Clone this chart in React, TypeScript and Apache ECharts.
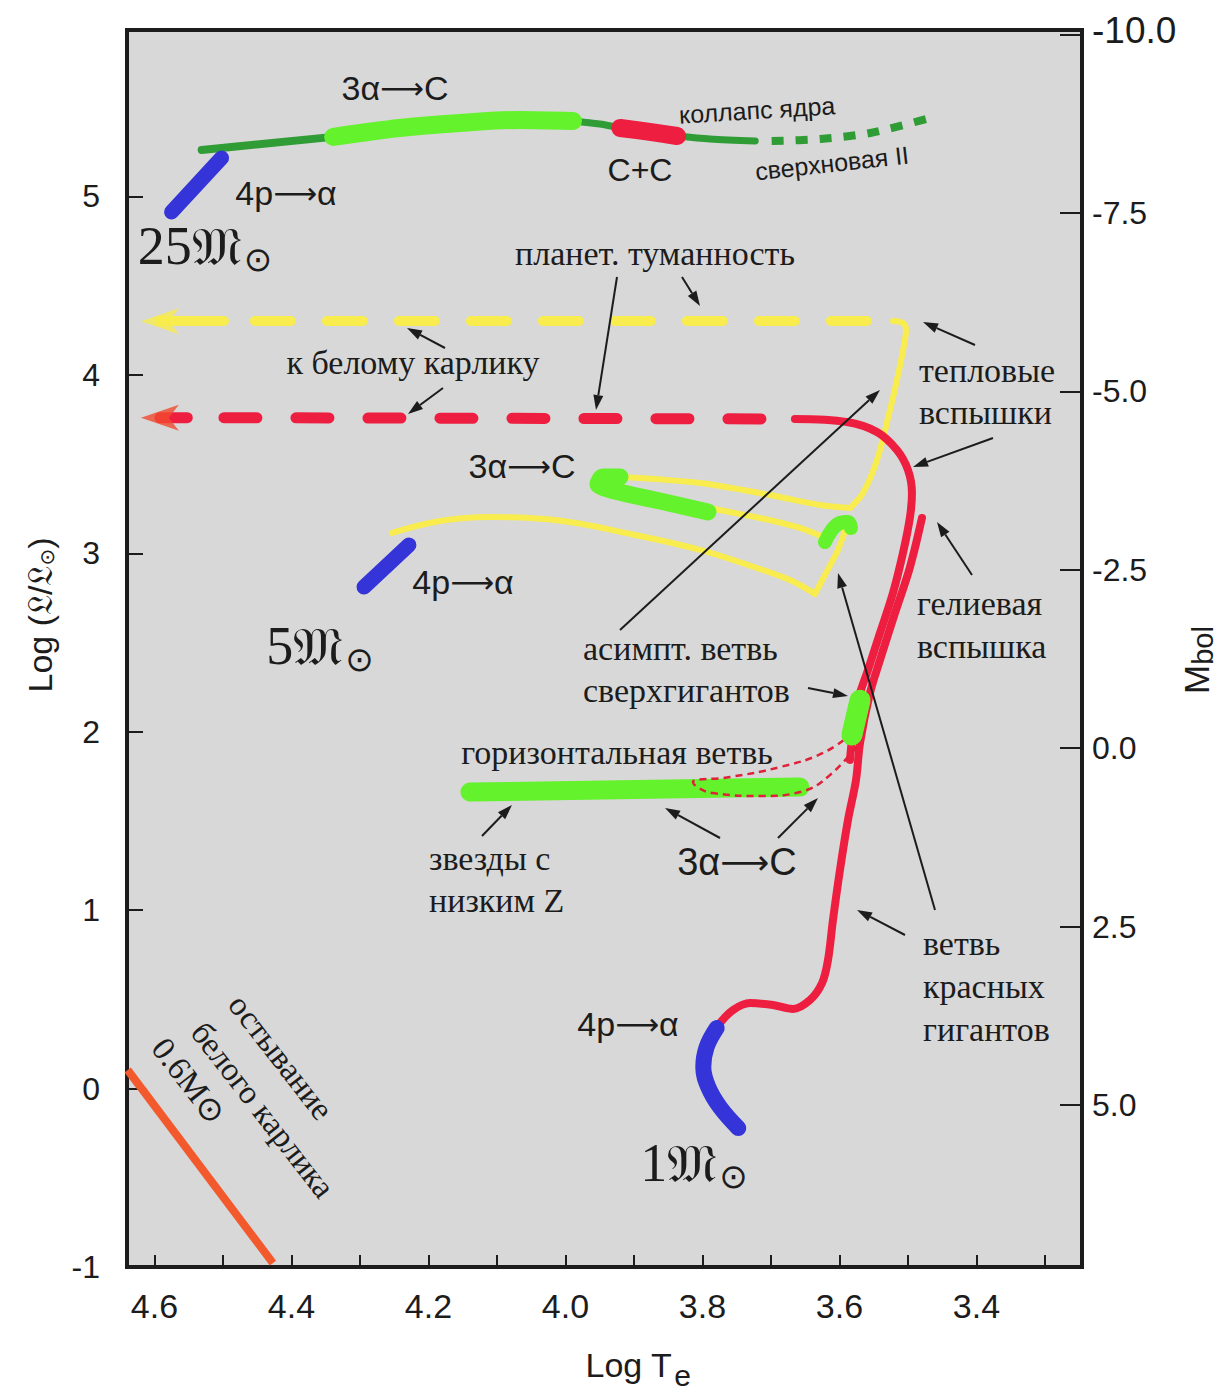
import React, { useEffect, useRef } from 'react';
import * as echarts from 'echarts';

// ---- axes ----
const xTicks = [4.6, 4.5, 4.4, 4.3, 4.2, 4.1, 4.0, 3.9, 3.8, 3.7, 3.6, 3.5, 3.4, 3.3];
const xLabels = [4.6, 4.4, 4.2, 4.0, 3.8, 3.6, 3.4];
const yLabels = [-1, 0, 1, 2, 3, 4, 5];
const mbolLabels = [-10, -7.5, -5, -2.5, 0, 2.5, 5];

// ---- 25 Msun track ----
const m25Blue = [[4.575, 4.913], [4.502, 5.216]];
const m25Dark1 = [[4.531, 5.261], [4.339, 5.334]];
const m25Light = [[4.339, 5.334], [4.242, 5.384], [4.154, 5.412], [4.066, 5.429], [3.989, 5.423]];
const m25Dark2 = [[3.989, 5.423], [3.950, 5.406], [3.920, 5.384]];
const m25Red = [[3.920, 5.384], [3.877, 5.362], [3.837, 5.339]];
const m25Dark3 = [[3.837, 5.339], [3.789, 5.322], [3.723, 5.311]];
const m25SN = [[3.699, 5.311], [3.628, 5.322], [3.555, 5.356], [3.468, 5.440]];

// ---- 5 Msun track ----
const m5Blue = [[4.294, 2.811], [4.2285, 3.047]];
const m5YellowLow = [[4.2533, 3.114], [4.1832, 3.181], [4.1102, 3.203], [4.0153, 3.187], [3.8912, 3.097], [3.8036, 3.019], [3.7292, 2.929], [3.6723, 2.850], [3.6358, 2.772]];
const m5YellowRise = [[3.6358, 2.772], [3.6197, 2.890], [3.6022, 3.019], [3.5905, 3.142]];
const m5Hook = [[3.6212, 3.063], [3.6110, 3.131], [3.5993, 3.170], [3.5876, 3.175], [3.5832, 3.142]];
const m5YellowMid = [[3.792, 3.254], [3.7161, 3.198], [3.6577, 3.142], [3.6212, 3.086]];
const m5Green = [[3.792, 3.232], [3.862, 3.293], [3.9277, 3.349], [3.9526, 3.388], [3.9453, 3.428], [3.9204, 3.428]];
const m5YellowUp = [[3.9175, 3.428], [3.8036, 3.394], [3.7015, 3.327], [3.6285, 3.271], [3.5847, 3.254]];
const m5YellowTP = [[3.5847, 3.254], [3.5657, 3.338], [3.5453, 3.523], [3.5263, 3.803], [3.5146, 3.999], [3.5058, 4.168], [3.5029, 4.252], [3.5073, 4.291], [3.5219, 4.302]];
const m5PN = [[4.4533, 4.302], [3.5219, 4.302]];
const m5PNStub = [[4.592, 4.302], [4.4985, 4.302]];
const m5Arrow = [[4.592, 4.300]];

// ---- 1 Msun track ----
const m1Blue = [[3.7793, 0.339], [3.7939, 0.233], [3.7988, 0.121], [3.7915, 0.008], [3.7745, -0.104], [3.7477, -0.221]];
const m1RGB = [[3.7745, 0.367], [3.7555, 0.440], [3.7307, 0.479], [3.6971, 0.468], [3.6679, 0.446], [3.6431, 0.496], [3.6255, 0.591], [3.6168, 0.720], [3.6095, 0.945], [3.5993, 1.225], [3.5876, 1.505], [3.5759, 1.729], [3.5700, 1.937], [3.5555, 2.217], [3.5409, 2.402], [3.5190, 2.665], [3.4971, 2.923], [3.4796, 3.198]];
const m1AGB = [[3.5847, 1.842], [3.5818, 1.954], [3.5730, 2.177], [3.5584, 2.346], [3.5409, 2.553], [3.5219, 2.778], [3.5073, 3.002], [3.4971, 3.203], [3.4942, 3.338], [3.5000, 3.467], [3.5161, 3.579], [3.5453, 3.680], [3.5891, 3.736], [3.6650, 3.753]];
const m1PN = [[4.4985, 3.760], [3.6650, 3.753]];
const m1PNStub = [[4.592, 3.760], [4.552, 3.760]];
const m1Arrow = [[4.592, 3.760]];
const m1Clump = [[3.5818, 1.982], [3.5700, 2.177]];
const hbLoop = [[3.5803, 1.993], [3.6241, 1.881], [3.6869, 1.802], [3.7599, 1.746], [3.8139, 1.718], [3.8080, 1.690], [3.7847, 1.656], [3.7117, 1.640], [3.6577, 1.662], [3.6139, 1.757], [3.5701, 1.942]];
const hbGreen = [[4.1394, 1.662], [3.6577, 1.690]];

// ---- white dwarf cooling ----
const wdCooling = [[4.639, 0.104], [4.427, -0.978]];

// ---- colours ----
const BLUE = '#3434d8';
const LGREEN = '#63f22b';
const DGREEN = '#2f9c35';
const RED = '#ee1e40';
const YELLOW = '#f8ec4e';
const ORANGE = '#f25a2e';
const INK = '#1c1c1c';
const SERIF = '"Liberation Serif", "Times New Roman", serif';
const SANS = '"Liberation Sans", Arial, sans-serif';
const ARROWFONT = '"DejaVu Sans", sans-serif';

function ln(data: number[][], color: string, width: number, extra: any = {}) {
  return {
    type: 'line',
    data,
    xAxisIndex: 0,
    yAxisIndex: 0,
    symbol: 'none',
    silent: true,
    smooth: extra.smooth ?? 0.3,
    z: extra.z ?? 2,
    lineStyle: {
      color,
      width,
      cap: extra.cap ?? 'round',
      join: 'round',
      type: extra.dash ?? 'solid',
    },
  };
}

function arrowhead(data: number[][], color: string) {
  return {
    type: 'scatter',
    data,
    xAxisIndex: 0,
    yAxisIndex: 0,
    symbol: 'path://M0,13 L34,0 L25,13 L34,26 Z',
    symbolSize: [38, 26],
    silent: true,
    z: 3,
    itemStyle: { color },
  };
}

function arrow(x1: number, y1: number, x2: number, y2: number) {
  const a = Math.atan2(y2 - y1, x2 - x1);
  const head = 15;
  const hw = 5;
  const bx = x2 - head * Math.cos(a);
  const by = y2 - head * Math.sin(a);
  const px = -Math.sin(a) * hw;
  const py = Math.cos(a) * hw;
  return [
    { type: 'line', z: 100, silent: true, shape: { x1, y1, x2: bx, y2: by }, style: { stroke: INK, lineWidth: 2 } },
    { type: 'polygon', z: 100, silent: true, shape: { points: [[x2, y2], [bx + px, by + py], [bx - px, by - py]] }, style: { fill: INK } },
  ];
}

function txt(text: string, x: number, y: number, o: any = {}) {
  const align = o.align ?? 'center';
  return {
    type: 'text',
    x,
    y,
    rotation: o.rotation ?? 0,
    z: 100,
    silent: true,
    style: {
      text,
      fill: o.fill ?? INK,
      fontSize: o.size ?? 34,
      fontFamily: o.family ?? SERIF,
      align,
      verticalAlign: 'middle',
      textAlign: align,
      textVerticalAlign: 'middle',
      rich: o.rich,
    },
  };
}

// reaction labels such as "3α→C" with a long arrow glyph
function reaction(left: string, right: string, x: number, y: number, size = 34) {
  return txt(`{t|${left}}{a|\u27F6}{t|${right}}`, x, y, {
    rich: {
      t: { fontSize: size, fontFamily: SANS, fill: INK, lineHeight: size + 6 },
      a: { fontSize: size * 0.9, fontFamily: ARROWFONT, fill: INK, lineHeight: size + 6 },
    },
  });
}

const massRich = {
  n: { fontSize: 54, fontFamily: SERIF, fill: INK, lineHeight: 60 },
  m: { fontSize: 54, fontFamily: '"DejaVu Serif", "Noto Sans", serif', fill: INK, lineHeight: 60 },
  s: { fontSize: 34, fontFamily: '"DejaVu Sans", sans-serif', fill: INK, lineHeight: 60, verticalAlign: 'bottom', padding: [22, 0, 0, 2] },
};

const graphics: any[] = [
  // axis titles
  {
    type: 'text', x: 638, y: 1365, z: 100, silent: true,
    style: {
      text: '{a|Log T}{b|e}', align: 'center', verticalAlign: 'middle', textAlign: 'center', textVerticalAlign: 'middle',
      rich: {
        a: { fontSize: 34, fontFamily: '"Liberation Sans Narrow", "Liberation Sans", sans-serif', fill: INK, lineHeight: 40 },
        b: { fontSize: 30, fontFamily: '"Liberation Sans Narrow", "Liberation Sans", sans-serif', fill: INK, lineHeight: 40, padding: [20, 0, 0, 2] },
      },
    },
  },
  {
    type: 'text', x: 1196, y: 660, rotation: Math.PI / 2, z: 100, silent: true,
    style: {
      text: '{a|M}{b|bol}', align: 'center', verticalAlign: 'middle', textAlign: 'center', textVerticalAlign: 'middle',
      rich: {
        a: { fontSize: 35, fontFamily: SANS, fill: INK, lineHeight: 40 },
        b: { fontSize: 29, fontFamily: SANS, fill: INK, lineHeight: 40, padding: [14, 0, 0, 0] },
      },
    },
  },
  {
    type: 'text', x: 40, y: 615, rotation: Math.PI / 2, z: 100, silent: true,
    style: {
      text: '{a|Log (\u{1D50F}/\u{1D50F}}{b|\u2299}{a|)}', align: 'center', verticalAlign: 'middle', textAlign: 'center', textVerticalAlign: 'middle',
      rich: {
        a: { fontSize: 34, fontFamily: '"Liberation Sans", "DejaVu Sans", sans-serif', fill: INK, lineHeight: 40 },
        b: { fontSize: 20, fontFamily: '"DejaVu Sans", sans-serif', fill: INK, lineHeight: 40, padding: [14, 0, 0, 0] },
      },
    },
  },

  // 25 Msun labels
  reaction('3\u03b1', 'C', 395, 88),
  reaction('4p', '\u03b1', 286, 193),
  txt('{n|25}{m|\u{1D510}}{s|\u2299}', 205, 246, { rich: massRich }),
  txt('\u043a\u043e\u043b\u043b\u0430\u043f\u0441 \u044f\u0434\u0440\u0430', 757, 110, { family: SANS, size: 25, rotation: 0.06 }),
  txt('C+C', 640, 170, { family: SANS, size: 32 }),
  txt('\u0441\u0432\u0435\u0440\u0445\u043d\u043e\u0432\u0430\u044f II', 832, 163, { family: SANS, size: 25, rotation: 0.11 }),

  // planetary nebula / white dwarf
  txt('\u043f\u043b\u0430\u043d\u0435\u0442. \u0442\u0443\u043c\u0430\u043d\u043d\u043e\u0441\u0442\u044c', 655, 253, { size: 34 }),
  txt('\u043a \u0431\u0435\u043b\u043e\u043c\u0443 \u043a\u0430\u0440\u043b\u0438\u043a\u0443', 413, 362, { size: 34 }),
  txt('\u0442\u0435\u043f\u043b\u043e\u0432\u044b\u0435', 919, 370, { size: 34, align: 'left' }),
  txt('\u0432\u0441\u043f\u044b\u0448\u043a\u0438', 919, 412, { size: 34, align: 'left' }),

  // 5 Msun labels
  reaction('3\u03b1', 'C', 522, 466),
  reaction('4p', '\u03b1', 463, 582),
  txt('{n|5}{m|\u{1D510}}{s|\u2299}', 320, 646, { rich: massRich }),
  txt('\u0430\u0441\u0438\u043c\u043f\u0442. \u0432\u0435\u0442\u0432\u044c', 583, 648, { size: 34, align: 'left' }),
  txt('\u0441\u0432\u0435\u0440\u0445\u0433\u0438\u0433\u0430\u043d\u0442\u043e\u0432', 583, 690, { size: 34, align: 'left' }),
  txt('\u0433\u0435\u043b\u0438\u0435\u0432\u0430\u044f', 917, 603, { size: 34, align: 'left' }),
  txt('\u0432\u0441\u043f\u044b\u0448\u043a\u0430', 917, 646, { size: 34, align: 'left' }),

  // horizontal branch
  txt('\u0433\u043e\u0440\u0438\u0437\u043e\u043d\u0442\u0430\u043b\u044c\u043d\u0430\u044f \u0432\u0435\u0442\u0432\u044c', 617, 752, { size: 34 }),
  txt('\u0437\u0432\u0435\u0437\u0434\u044b \u0441', 429, 858, { size: 34, align: 'left' }),
  txt('\u043d\u0438\u0437\u043a\u0438\u043c Z', 429, 900, { size: 34, align: 'left' }),
  reaction('3\u03b1', 'C', 737, 862, 38),

  // red giant branch
  txt('\u0432\u0435\u0442\u0432\u044c', 923, 943, { size: 34, align: 'left' }),
  txt('\u043a\u0440\u0430\u0441\u043d\u044b\u0445', 923, 986, { size: 34, align: 'left' }),
  txt('\u0433\u0438\u0433\u0430\u043d\u0442\u043e\u0432', 923, 1029, { size: 34, align: 'left' }),

  // 1 Msun labels
  reaction('4p', '\u03b1', 628, 1024),
  txt('{n|1}{m|\u{1D510}}{s|\u2299}', 694, 1163, { rich: massRich }),

  // white dwarf cooling (rotated)
  txt('\u043e\u0441\u0442\u044b\u0432\u0430\u043d\u0438\u0435', 281, 1057, { size: 33, rotation: -0.91 }),
  txt('\u0431\u0435\u043b\u043e\u0433\u043e \u043a\u0430\u0440\u043b\u0438\u043a\u0430', 263, 1110, { size: 33, rotation: -0.91 }),
  txt('0.6M\u2299', 189, 1081, { size: 33, rotation: -0.91 }),

  // annotation arrows
  ...arrow(617, 277, 596, 410),
  ...arrow(682, 277, 700, 306),
  ...arrow(445, 348, 407, 328),
  ...arrow(443, 388, 408, 414),
  ...arrow(975, 345, 923, 322),
  ...arrow(993, 438, 913, 467),
  ...arrow(620, 630, 880, 390),
  ...arrow(808, 688, 848, 696),
  ...arrow(972, 575, 937, 522),
  ...arrow(935, 910, 838, 573),
  ...arrow(905, 935, 857, 910),
  ...arrow(482, 836, 512, 805),
  ...arrow(720, 838, 665, 808),
  ...arrow(778, 838, 818, 798),
];

const option: any = {
  animation: false,
  backgroundColor: '#ffffff',
  grid: {
    left: 127,
    right: 139,
    top: 30,
    bottom: 130,
    show: true,
    backgroundColor: '#d8d8d8',
    borderColor: INK,
    borderWidth: 4,
    containLabel: false,
  },
  xAxis: [
    {
      type: 'value',
      inverse: true,
      min: 3.246,
      max: 4.64,
      position: 'bottom',
      axisLine: { show: false, onZero: false },
      splitLine: { show: false },
      axisTick: {
        show: true,
        inside: true,
        length: 12,
        customValues: xTicks,
        lineStyle: { color: INK, width: 2 },
      },
      axisLabel: {
        customValues: xLabels,
        margin: 22,
        fontSize: 34,
        fontFamily: SANS,
        color: INK,
        formatter: (v: number) => v.toFixed(1),
      },
    },
  ],
  yAxis: [
    {
      type: 'value',
      min: -1,
      max: 5.933,
      position: 'left',
      axisLine: { show: false, onZero: false },
      splitLine: { show: false },
      axisTick: {
        show: true,
        inside: true,
        length: 16,
        customValues: yLabels,
        lineStyle: { color: INK, width: 2 },
      },
      axisLabel: {
        customValues: yLabels,
        margin: 27,
        fontSize: 32,
        fontFamily: SANS,
        color: INK,
        formatter: (v: number) => String(Math.round(v)),
      },
    },
    {
      type: 'value',
      inverse: true,
      min: -10.0625,
      max: 7.27,
      position: 'right',
      axisLine: { show: false, onZero: false },
      splitLine: { show: false },
      axisTick: {
        show: true,
        inside: true,
        length: 22,
        customValues: mbolLabels,
        lineStyle: { color: INK, width: 2 },
      },
      axisLabel: {
        customValues: mbolLabels,
        margin: 10,
        fontSize: 32,
        fontFamily: SANS,
        color: INK,
        formatter: (v: number) => (v === -10 ? '{big|-10.0}' : v.toFixed(1)),
        rich: { big: { fontSize: 37, fontFamily: SANS, color: INK, padding: [0, 0, 8, 0] } },
      },
    },
  ],
  series: [
    // white dwarf
    ln(wdCooling, ORANGE, 8, { smooth: false, cap: 'butt' }),
    // 5 Msun
    ln(m5PN, YELLOW, 10, { smooth: false, dash: [36, 36] }),
    ln(m5PNStub, YELLOW, 10, { smooth: false }),
    arrowhead(m5Arrow, YELLOW),
    ln(m5YellowLow, YELLOW, 6, { smooth: 0.4 }),
    ln(m5YellowRise, YELLOW, 6, { smooth: 0.2 }),
    ln(m5YellowMid, YELLOW, 6, { smooth: 0.3 }),
    ln(m5YellowUp, YELLOW, 6, { smooth: 0.3 }),
    ln(m5YellowTP, YELLOW, 6, { smooth: 0.35 }),
    ln(m5Blue, BLUE, 15, { smooth: false }),
    ln(m5Green, LGREEN, 17, { smooth: 0.3 }),
    ln(m5Hook, LGREEN, 14, { smooth: 0.4 }),
    // 1 Msun
    ln(m1PN, RED, 11, { smooth: false, dash: [33, 39] }),
    ln(m1PNStub, RED, 11, { smooth: false }),
    arrowhead(m1Arrow, '#f04a30'),
    ln(hbGreen, LGREEN, 19, { smooth: false }),
    ln(m1RGB, RED, 8, { smooth: 0.35 }),
    ln(m1AGB, RED, 8, { smooth: 0.35 }),
    ln(hbLoop, '#e0203a', 2.5, { smooth: 0.45, dash: [7, 5], cap: 'butt' }),
    ln(m1Clump, LGREEN, 21, { smooth: false }),
    ln(m1Blue, BLUE, 16, { smooth: 0.4 }),
    // 25 Msun
    ln(m25SN, DGREEN, 8, { smooth: 0.3, dash: [12, 12], cap: 'butt' }),
    ln(m25Dark1, DGREEN, 8, { smooth: false }),
    ln(m25Dark2, DGREEN, 7, { smooth: 0.3 }),
    ln(m25Dark3, DGREEN, 7, { smooth: 0.3 }),
    ln(m25Light, LGREEN, 18, { smooth: 0.3 }),
    ln(m25Red, RED, 18, { smooth: 0.3 }),
    ln(m25Blue, BLUE, 15, { smooth: false }),
  ],
  graphic: graphics,
};

export default function App() {
  const ref = useRef<HTMLDivElement>(null);
  useEffect(() => {
    const chart = echarts.init(ref.current as HTMLDivElement, null, { renderer: 'svg' });
    chart.setOption(option);
    return () => {
      chart.dispose();
    };
  }, []);
  return (
    <div
      ref={ref}
      style={{ position: 'absolute', left: 0, top: 0, width: 1221, height: 1397, background: '#ffffff' }}
    />
  );
}
